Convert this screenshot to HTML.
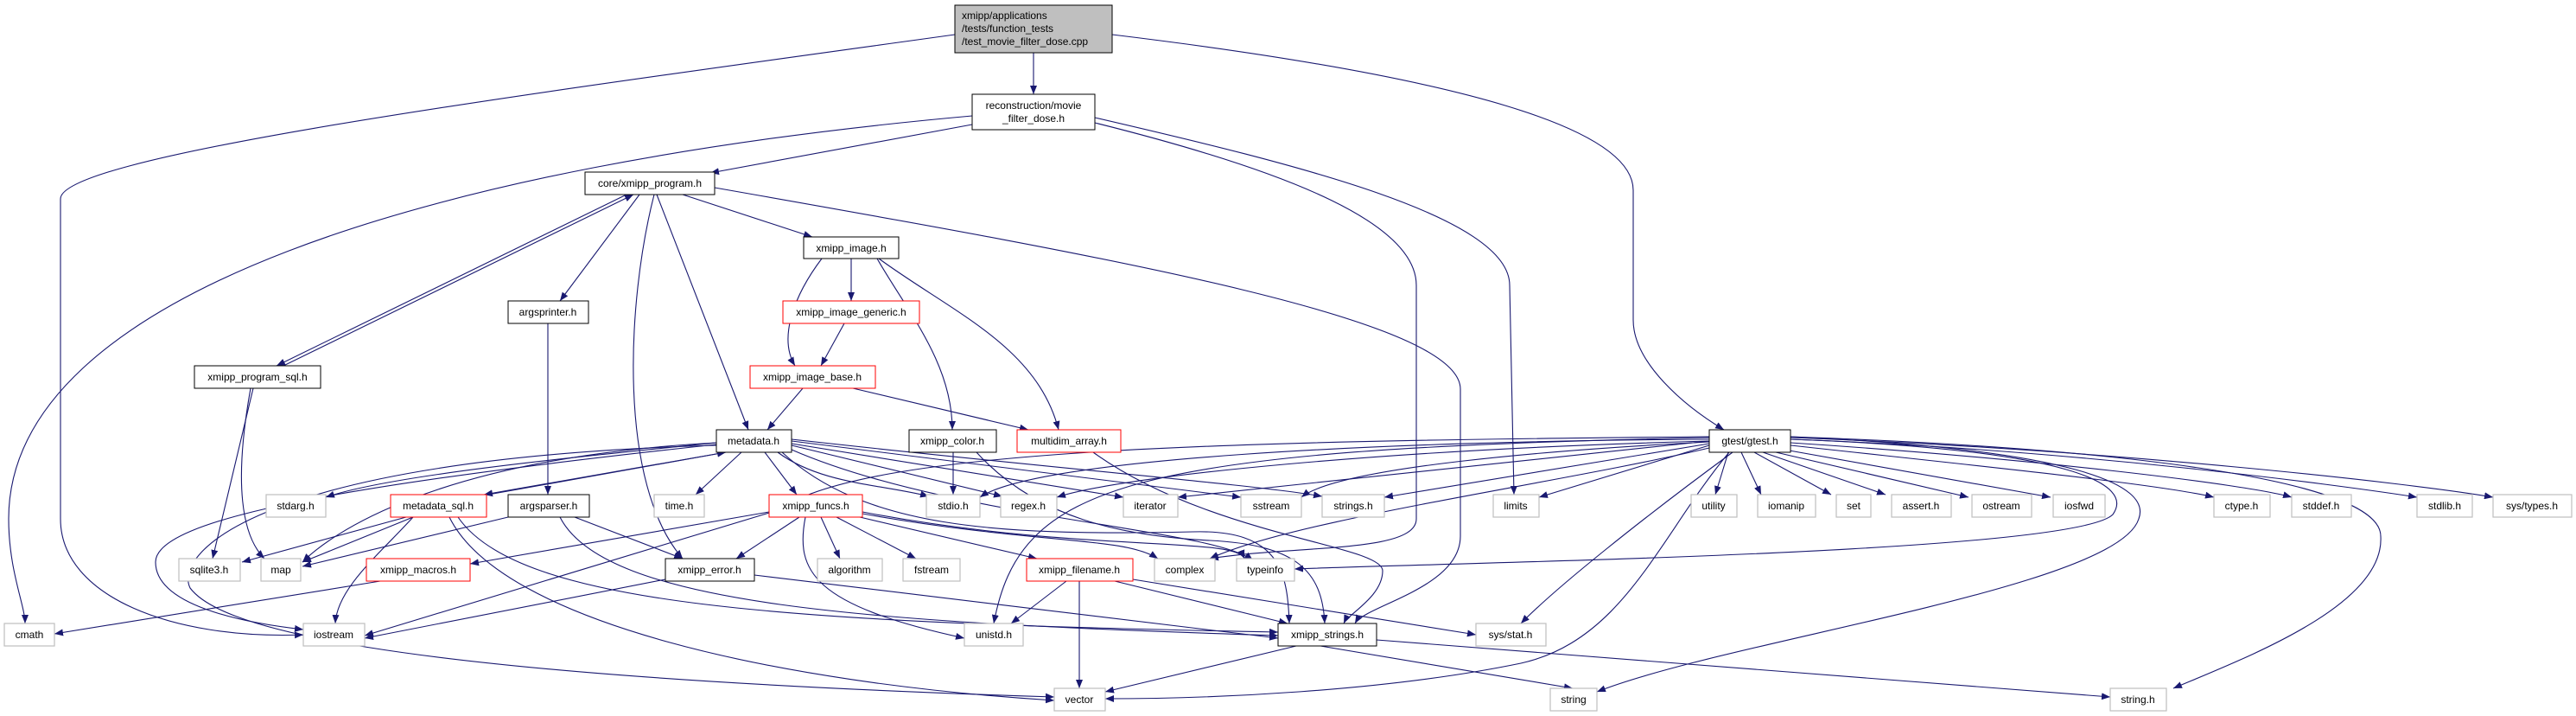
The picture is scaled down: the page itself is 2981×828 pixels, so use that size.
<!DOCTYPE html>
<html><head><meta charset="utf-8"><style>
html,body{margin:0;padding:0;background:#fff;}
svg{display:block;}
text{font-family:"Liberation Sans",Arial,sans-serif;font-size:12px;fill:#000;}
.e{fill:none;stroke:#191970;stroke-width:1.1;marker-end:url(#a);}
.n{fill:#fff;stroke:#000;stroke-width:1;}
.r{fill:#fff;stroke:#ff0000;stroke-width:1;}
.g{fill:#fff;stroke:#bfbfbf;stroke-width:1.2;}
</style></head><body>
<svg width="2981" height="828" viewBox="0 0 2981 828" xmlns="http://www.w3.org/2000/svg">
<defs><marker id="a" markerUnits="userSpaceOnUse" markerWidth="10" markerHeight="8" refX="10" refY="4" orient="auto"><path d="M0,0 L10,4 L0,8 z" fill="#191970"/></marker></defs>
<g>
<path class="e" d="M1196 61 L1196 109"/>
<path class="e" d="M1105 40 C600 110,70 180,70 230 L70 600 C70 690,200 740,351 734"/>
<path class="e" d="M1287 40 C1700 90,1890 150,1890 220 L1890 370 C1890 420,1950 470,1995 497"/>
<path class="e" d="M1125 144 L822 200"/>
<path class="e" d="M1125 134 C500 190,10 340,10 600 C10 660,29 700,29 721"/>
<path class="e" d="M1267 136 C1500 190,1747 250,1747 330 L1752 572"/>
<path class="e" d="M1267 142 C1500 200,1639 260,1639 330 L1639 600 C1639 640,1500 630,1400 646"/>
<path class="e" d="M790 225 L940 274"/>
<path class="e" d="M740 225 L648 348"/>
<path class="e" d="M760 225 L866 497"/>
<path class="e" d="M757 225 C725 350,715 560,790 646"/>
<path class="e" d="M725 225 L320 423"/>
<path class="e" d="M328 423 L733 225"/>
<path class="e" d="M827 217 C1300 300,1690 370,1690 450 L1690 620 C1690 680,1580 700,1568 721"/>
<path class="e" d="M985 299 L985 348"/>
<path class="e" d="M951 299 C920 340,900 390,920 423"/>
<path class="e" d="M1015 299 C1050 360,1102 420,1102 497"/>
<path class="e" d="M1017 299 C1100 360,1200 400,1225 497"/>
<path class="e" d="M977 374 L950 423"/>
<path class="e" d="M929 449 L888 497"/>
<path class="e" d="M987 449 L1190 497"/>
<path class="e" d="M634 374 L634 572"/>
<path class="e" d="M293 449 L246 646"/>
<path class="e" d="M290 449 C270 560,280 620,306 646"/>
<path class="e" d="M829 512 C650 530,450 550,377 575"/>
<path class="e" d="M840 523 L560 572"/>
<path class="e" d="M565 572 L840 523"/>
<path class="e" d="M858 523 L805 572"/>
<path class="e" d="M885 523 L922 572"/>
<path class="e" d="M900 523 C950 560,1020 560,1075 574"/>
<path class="e" d="M916 515 L1160 574"/>
<path class="e" d="M916 513 L1300 575"/>
<path class="e" d="M916 510 L1436 575"/>
<path class="e" d="M916 508 C1200 540,1450 560,1530 574"/>
<path class="e" d="M829 512 C500 530,380 620,350 650"/>
<path class="e" d="M829 514 C400 560,180 600,180 650 C180 700,280 720,351 728"/>
<path class="e" d="M829 515 C300 530,200 640,220 680 C250 720,400 780,1220 806"/>
<path class="e" d="M905 523 C1000 610,1150 620,1380 615 C1480 612,1490 660,1492 721"/>
<path class="e" d="M916 520 C1100 600,1400 610,1450 648"/>
<path class="e" d="M470 598 L280 650"/>
<path class="e" d="M478 598 L350 650"/>
<path class="e" d="M478 598 C440 640,390 680,388 721"/>
<path class="e" d="M520 598 C580 720,900 790,1220 810"/>
<path class="e" d="M530 598 C600 700,900 720,1479 731"/>
<path class="e" d="M588 598 L350 655"/>
<path class="e" d="M665 598 L790 646"/>
<path class="e" d="M648 598 C700 700,1000 720,1479 735"/>
<path class="e" d="M890 592 L544 652"/>
<path class="e" d="M925 598 L852 646"/>
<path class="e" d="M950 598 L972 646"/>
<path class="e" d="M968 598 L1060 646"/>
<path class="e" d="M995 598 L1200 646"/>
<path class="e" d="M998 594 C1200 630,1300 620,1340 646"/>
<path class="e" d="M998 592 C1250 640,1430 620,1440 646"/>
<path class="e" d="M932 598 C920 660,940 700,1116 738"/>
<path class="e" d="M440 672 L63 733"/>
<path class="e" d="M770 670 L422 738"/>
<path class="e" d="M873 665 L1479 738"/>
<path class="e" d="M1103 523 L1103 572"/>
<path class="e" d="M1130 523 C1200 600,1300 620,1400 625 C1500 630,1530 660,1533 721"/>
<path class="e" d="M1265 523 C1400 620,1600 630,1600 660 C1600 690,1560 710,1555 721"/>
<path class="e" d="M1234 672 L1170 721"/>
<path class="e" d="M1249 672 L1249 796"/>
<path class="e" d="M1290 672 L1490 721"/>
<path class="e" d="M1311 670 L1708 734"/>
<path class="e" d="M1500 747 L1279 800"/>
<path class="e" d="M1528 747 L1820 796"/>
<path class="e" d="M1593 740 L2442 806"/>
<path class="e" d="M1978 515 L1781 575"/>
<path class="e" d="M1978 513 L1602 575"/>
<path class="e" d="M1978 511 C1800 520,1550 540,1506 575"/>
<path class="e" d="M1978 510 C1600 520,1300 550,1223 575"/>
<path class="e" d="M1978 508 C1600 510,1200 530,1134 575"/>
<path class="e" d="M1978 510 L1363 575"/>
<path class="e" d="M2072 508 C2400 520,2470 560,2445 595 C2400 640,1700 650,1498 658"/>
<path class="e" d="M1978 505 C1400 510,1000 520,900 590 L422 735"/>
<path class="e" d="M1978 506 C1300 520,1180 560,1150 721"/>
<path class="e" d="M1978 518 C1800 560,1500 600,1400 646"/>
<path class="e" d="M2000 523 L1985 572"/>
<path class="e" d="M2015 523 L2038 572"/>
<path class="e" d="M2030 523 L2119 572"/>
<path class="e" d="M2040 523 L2182 572"/>
<path class="e" d="M2055 523 L2278 575"/>
<path class="e" d="M2065 520 L2373 575"/>
<path class="e" d="M2072 515 C2300 540,2500 560,2562 575"/>
<path class="e" d="M2072 512 C2350 530,2600 560,2652 575"/>
<path class="e" d="M2072 508 C2400 520,2700 560,2797 575"/>
<path class="e" d="M2072 506 C2450 520,2800 560,2885 575"/>
<path class="e" d="M2072 505 C2400 520,2490 560,2475 600 C2450 680,2000 740,1848 800"/>
<path class="e" d="M2072 505 C2500 520,2755 560,2755 620 C2760 700,2600 760,2515 796"/>
<path class="e" d="M2005 523 C1900 600,1800 680,1760 721"/>
<path class="e" d="M2001 523 C1920 620,1880 740,1760 767 C1600 800,1400 808,1279 808"/>
</g>
<g>
<rect x="1105" y="6" width="182" height="55" fill="#bfbfbf" stroke="#000"/>
<text x="1113" y="22">xmipp/applications</text>
<text x="1113" y="37">/tests/function_tests</text>
<text x="1113" y="52">/test_movie_filter_dose.cpp</text>
<rect class="n" x="1125" y="109" width="142" height="41"/>
<text x="1196" y="126" text-anchor="middle">reconstruction/movie</text>
<text x="1196" y="141" text-anchor="middle">_filter_dose.h</text>
</g>
<g text-anchor="middle">
<rect class="n" x="677" y="199" width="150" height="26"/><text x="752" y="216">core/xmipp_program.h</text>
<rect class="n" x="930" y="274" width="110" height="25"/><text x="985" y="291">xmipp_image.h</text>
<rect class="n" x="588" y="348" width="93" height="26"/><text x="634" y="365">argsprinter.h</text>
<rect class="r" x="906" y="348" width="158" height="26"/><text x="985" y="365">xmipp_image_generic.h</text>
<rect class="n" x="225" y="423" width="146" height="26"/><text x="298" y="440">xmipp_program_sql.h</text>
<rect class="r" x="868" y="423" width="145" height="26"/><text x="940" y="440">xmipp_image_base.h</text>
<rect class="n" x="829" y="497" width="87" height="26"/><text x="872" y="514">metadata.h</text>
<rect class="n" x="1052" y="497" width="101" height="26"/><text x="1102" y="514">xmipp_color.h</text>
<rect class="r" x="1177" y="497" width="120" height="26"/><text x="1237" y="514">multidim_array.h</text>
<rect class="n" x="1978" y="497" width="94" height="26"/><text x="2025" y="514">gtest/gtest.h</text>

<rect class="g" x="308" y="572" width="69" height="26"/><text x="342" y="589">stdarg.h</text>
<rect class="r" x="452" y="572" width="111" height="26"/><text x="507" y="589">metadata_sql.h</text>
<rect class="n" x="588" y="572" width="94" height="26"/><text x="635" y="589">argsparser.h</text>
<rect class="g" x="757" y="572" width="58" height="26"/><text x="786" y="589">time.h</text>
<rect class="r" x="890" y="572" width="108" height="26"/><text x="944" y="589">xmipp_funcs.h</text>
<rect class="g" x="1072" y="572" width="62" height="26"/><text x="1103" y="589">stdio.h</text>
<rect class="g" x="1158" y="572" width="65" height="26"/><text x="1190" y="589">regex.h</text>
<rect class="g" x="1300" y="572" width="63" height="26"/><text x="1331" y="589">iterator</text>
<rect class="g" x="1436" y="572" width="70" height="26"/><text x="1471" y="589">sstream</text>
<rect class="g" x="1530" y="572" width="72" height="26"/><text x="1566" y="589">strings.h</text>
<rect class="g" x="1728" y="572" width="53" height="26"/><text x="1754" y="589">limits</text>
<rect class="g" x="1957" y="572" width="53" height="26"/><text x="1983" y="589">utility</text>
<rect class="g" x="2034" y="572" width="67" height="26"/><text x="2067" y="589">iomanip</text>
<rect class="g" x="2125" y="572" width="40" height="26"/><text x="2145" y="589">set</text>
<rect class="g" x="2189" y="572" width="69" height="26"/><text x="2223" y="589">assert.h</text>
<rect class="g" x="2282" y="572" width="69" height="26"/><text x="2316" y="589">ostream</text>
<rect class="g" x="2376" y="572" width="60" height="26"/><text x="2406" y="589">iosfwd</text>
<rect class="g" x="2562" y="572" width="65" height="26"/><text x="2594" y="589">ctype.h</text>
<rect class="g" x="2652" y="572" width="69" height="26"/><text x="2686" y="589">stddef.h</text>
<rect class="g" x="2797" y="572" width="64" height="26"/><text x="2829" y="589">stdlib.h</text>
<rect class="g" x="2885" y="572" width="91" height="26"/><text x="2930" y="589">sys/types.h</text>

<rect class="g" x="207" y="646" width="71" height="26"/><text x="242" y="663">sqlite3.h</text>
<rect class="g" x="302" y="646" width="46" height="26"/><text x="325" y="663">map</text>
<rect class="r" x="424" y="646" width="120" height="26"/><text x="484" y="663">xmipp_macros.h</text>
<rect class="n" x="770" y="646" width="103" height="26"/><text x="821" y="663">xmipp_error.h</text>
<rect class="g" x="946" y="646" width="75" height="26"/><text x="983" y="663">algorithm</text>
<rect class="g" x="1045" y="646" width="66" height="26"/><text x="1078" y="663">fstream</text>
<rect class="r" x="1188" y="646" width="123" height="26"/><text x="1249" y="663">xmipp_filename.h</text>
<rect class="g" x="1336" y="646" width="70" height="26"/><text x="1371" y="663">complex</text>
<rect class="g" x="1431" y="646" width="67" height="26"/><text x="1464" y="663">typeinfo</text>

<rect class="g" x="5" y="721" width="58" height="26"/><text x="34" y="738">cmath</text>
<rect class="g" x="351" y="721" width="71" height="26"/><text x="386" y="738">iostream</text>
<rect class="g" x="1116" y="721" width="68" height="26"/><text x="1150" y="738">unistd.h</text>
<rect class="n" x="1479" y="721" width="114" height="26"/><text x="1536" y="738">xmipp_strings.h</text>
<rect class="g" x="1708" y="721" width="81" height="26"/><text x="1748" y="738">sys/stat.h</text>

<rect class="g" x="1220" y="796" width="59" height="26"/><text x="1249" y="813">vector</text>
<rect class="g" x="1794" y="796" width="54" height="26"/><text x="1821" y="813">string</text>
<rect class="g" x="2442" y="796" width="65" height="26"/><text x="2474" y="813">string.h</text>
</g>
</svg>
</body></html>
